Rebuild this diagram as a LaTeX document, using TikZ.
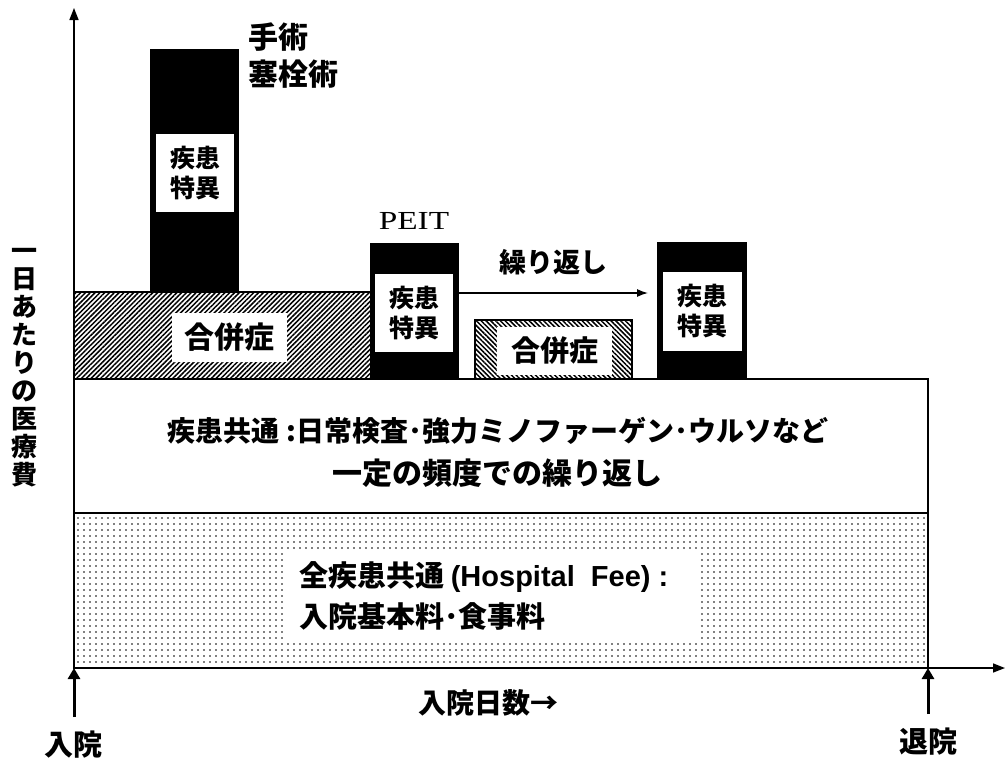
\documentclass[tikz,border=0pt]{standalone}
\usepackage{fontspec}
\setmainfont{Liberation Serif}
\newfontfamily\jp{Noto Sans CJK JP}
\newfontfamily\lsans{Liberation Sans}
\usetikzlibrary{patterns.meta,arrows.meta}
\newcommand\jf[2]{\jp\bfseries\fontsize{#1}{#2}\selectfont}
\begin{document}
\begin{tikzpicture}[x=1pt,y=-1pt,
  box/.style={inner sep=0pt, outer sep=0pt, anchor=north west, line width=1.5pt},
  hatchNE/.style={pattern={Lines[angle=45,distance=3.4pt,line width=1.5pt]}},
  hatchNW/.style={pattern={Lines[angle=-45,distance=3.4pt,line width=1.5pt]}},
  dotfill/.style={pattern={Dots[distance=6pt,radius=0.85pt]}},
  jt/.style={inner sep=0pt, align=center},
  upar/.style={line width=3pt, -{Triangle[length=11pt,width=12pt]}},
  axis/.style={line width=1.5pt, -{Triangle[length=12pt,width=9pt]}}
]
\useasboundingbox (0,0) rectangle (1005,758);

% base layers
\node[box, draw, dotfill, minimum width=854pt, minimum height=155pt] (base) at (74,513) {};
\node[box, fill=white, minimum width=412pt, minimum height=86pt] (hfbg) at (285,553) {};
\node[box, draw, fill=white, minimum width=854pt, minimum height=134pt] (common) at (74,379) {};

% left complication
\node[box, draw, hatchNE, minimum width=297pt, minimum height=87pt] (hatchL) at (74,292) {};
\node[box, fill=white, minimum width=115pt, minimum height=49pt] (cmpL) at (172,313) {};
\node[jt, font=\jf{30}{36}] (cmpLt) at (cmpL.center) {合併症};

% bar 1
\node[box, draw, fill=black, minimum width=87pt, minimum height=242pt] (bar1) at (151,50) {};
\node[box, fill=white, minimum width=78pt, minimum height=78pt] (in1) at (156,134) {};
\node[jt, font=\jf{25}{30}] (t1) at (in1.center) {疾患\\特異};
\node[jt, align=left, anchor=west, font=\jf{30}{37}] (surg) at (248,56) {手術\\塞栓術};

% bar 2
\node[box, draw, fill=black, minimum width=87pt, minimum height=135pt] (bar2) at (371,244) {};
\node[box, fill=white, minimum width=78pt, minimum height=78pt] (in2) at (375,274) {};
\node[jt, font=\jf{25}{30}] (t2) at (in2.center) {疾患\\特異};
\node[inner sep=0pt, font=\fontsize{26}{30}\selectfont, xscale=1.28] (peit) at (414,221) {PEIT};

% small complication
\node[box, draw, hatchNW, minimum width=157pt, minimum height=59pt] (hatchS) at (475,320) {};
\node[box, fill=white, minimum width=115pt, minimum height=48pt] (cmpS) at (497,327) {};
\node[jt, font=\jf{29}{35}] (cmpSt) at (cmpS.center) {合併症};

% bar 3
\node[box, draw, fill=black, minimum width=88pt, minimum height=136pt] (bar3) at (658,243) {};
\node[box, fill=white, minimum width=79pt, minimum height=79pt] (in3) at (663,272) {};
\node[jt, font=\jf{25}{30}] (t3) at (in3.center) {疾患\\特異};

% repeat arrow
\coordinate (ry) at (0,293);
\draw[line width=1.3pt, -{Latex[length=11pt,width=8pt]}] (bar2.east |- ry) -- ([xshift=-10pt]bar3.west |- ry);
\node[jt, font=\jf{27}{32}] (rep) at (553,262) {繰り返し};

% texts in layers
\node[jt, font=\jf{28}{32}] (ctext1) at (498,431) {疾患共通 :日常検査･強力ミノファーゲン･ウルソなど};
\node[jt, font=\jf{30}{32}] (ctext2) at (497,473) {一定の頻度での繰り返し};
\node[jt, align=left, anchor=west, font=\jf{29}{41}] (hftext) at (299,596) {全疾患共通 {\lsans\bfseries (Hospital\ \ Fee) :}\\入院基本料･食事料};

% axes
\coordinate (ytop) at (74,8);
\coordinate (xend) at (1005,668);
\draw[axis] (base.south west) -- (ytop);
\draw[axis] (base.south west) -- (xend);

% bottom labels and arrows
\node[jt, font=\jf{29}{30}] (adm) at (74,745) {入院};
\node[jt, font=\jf{29}{30}] (dis) at (928,742) {退院};
\draw[upar] ([yshift=14pt]adm.north) -- (base.south west);
\draw[upar] ([yshift=14pt]dis.north) -- (base.south east);
\node[jt, font=\jf{28}{30}] (xl) at (488,703) {入院日数→};

% y label
\node[jt, font=\jf{26}{28}] (yl) at (24,368) {一\\日\\あ\\た\\り\\の\\医\\療\\費};
\end{tikzpicture}
\end{document}
